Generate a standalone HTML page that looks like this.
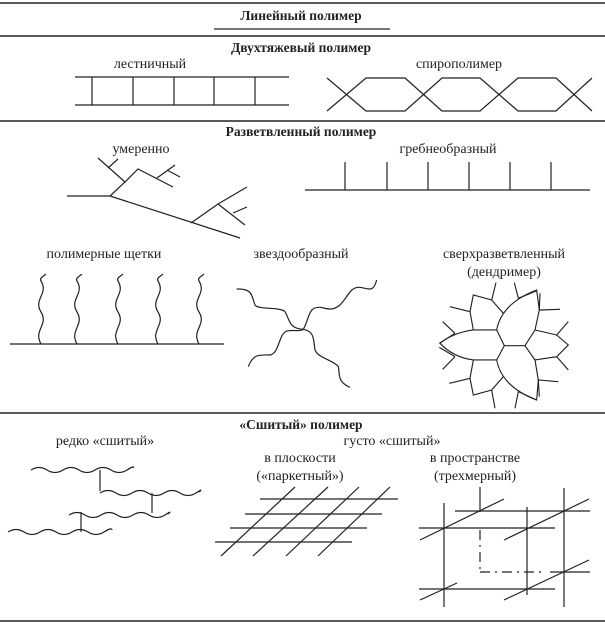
<!DOCTYPE html>
<html><head><meta charset="utf-8"><style>
html,body{margin:0;padding:0;background:#fff}
svg{display:block}
text{font-family:"Liberation Serif",serif;font-size:14px;fill:#222}
.b{font-weight:bold;font-size:13.5px}
</style></head><body>
<svg width="605" height="625" viewBox="0 0 605 625" xmlns="http://www.w3.org/2000/svg">
<g stroke="#222" stroke-width="1.2" fill="none">
<line x1="0" y1="3" x2="605" y2="3" stroke-width="1.5"/>
<line x1="0" y1="36" x2="605" y2="36" stroke-width="1.5"/>
<line x1="0" y1="121" x2="605" y2="121" stroke-width="1.5"/>
<line x1="0" y1="413" x2="605" y2="413" stroke-width="1.5"/>
<line x1="0" y1="621" x2="605" y2="621" stroke-width="1.5"/>
<line x1="214" y1="29" x2="390" y2="29"/>
<!-- ladder -->
<line x1="75" y1="77" x2="289" y2="77"/><line x1="75" y1="105" x2="289" y2="105"/>
<path d="M92 77V105M133 77V105M174 77V105M214 77V105M255 77V105"/>
<!-- spiro -->
<path d="M327 78L366 111L405 111L442 78L480 78L518 111L556 111L592 78"/>
<path d="M327 111L366 78L405 78L442 111L480 111L518 78L556 78L592 111"/>
<!-- moderate -->
<path d="M67 196H110L240 238"/>
<path d="M110 196L125 182L138 169L173 187"/>
<path d="M125 182L98 158M108 168L118 159"/>
<path d="M157 178L175 165M167 170L180 177"/>
<path d="M191 223L218 204L247 187M218 204L245 225M233 213L247 207"/>
<!-- comb -->
<line x1="305" y1="190" x2="590" y2="190"/>
<path d="M345 162V190M387 162V190M428 162V190M469 162V190M510 162V190M551 162V190"/>
<!-- brushes -->
<line x1="10" y1="344" x2="224" y2="344"/>
<g id="w"><path d="M41 344C33 330 49 325 41 312C33 299 49 294 41 281C39 278 44 276 46 274"/></g>
<use href="#w" x="36"/><use href="#w" x="77"/><use href="#w" x="117"/><use href="#w" x="158"/>
<!-- star -->
<g transform="translate(200,270) scale(0.3333)" stroke-width="3.6">
<path d="M110 57C160 55 155 80 165 105C175 120 240 110 255 125C270 150 265 175 310 178"/>
<path d="M310 178C330 140 325 110 360 112C380 115 395 125 420 105C445 80 450 50 480 52C505 55 520 70 530 30"/>
<path d="M145 290C160 250 180 255 210 255C240 250 235 185 265 182C285 180 300 185 310 178"/>
<path d="M310 178C345 185 340 210 345 240C355 265 400 270 415 290C420 310 410 335 450 352"/>
</g>
<!-- dendrimer -->
<g transform="translate(420,280) scale(0.3333)" stroke-width="3.4">
<path d="M253 197H315M230 150L253 197L230 240M315 197L345 150M315 197L345 240"/>
<path d="M230 150Q245 70 350 30L358 90L345 150"/>
<path d="M230 150H160L150 95L160 45L215 60L250 100"/>
<path d="M160 150Q100 158 60 190Q100 232 160 240H230"/>
<path d="M160 240L150 295L160 345L215 330L250 290"/>
<path d="M230 240Q245 320 350 360L355 300L345 240"/>
<path d="M345 150L410 165L445 195L410 230L345 240"/>
<path d="M215 60L228 8M295 55L283 8M295 55L350 32M150 95L90 80M105 160L68 125M105 160L58 190M105 230L58 202M105 230L68 268M150 295L88 310M215 330L225 385M295 335L285 385M295 335L350 360M358 90L420 88M358 90L360 40M410 165L445 125M410 230L445 270M355 300L415 305M355 300L358 350"/>
</g>
<!-- rare crosslinks -->
<path d="M31 470q8-5 16 0t16 0t16 0t16 0t16 0t16 0t6-2"/>
<path d="M100 493q8-5 16 0t16 0t16 0t16 0t16 0t16 0t3-1"/>
<path d="M69 515q8-5 16 0t16 0t16 0t16 0t16 0t16 0t3-1"/>
<path d="M8 532q8-5 16 0t16 0t16 0t16 0t16 0t16 0t8-2"/>
<path d="M100 470V491M152 493V513M81 512V532"/>
<!-- parquet -->
<path d="M260 499H398M245 514H382M230 528H367M215 542H352"/>
<path d="M221 556L295 487M253 556L328 487M286 556L359 487M318 556L390 487"/>
<!-- 3d -->
<path d="M444 503V607M480 487V512M527 507V595M564 488V607"/>
<path d="M455 511H590M419 528H555M419 589H555M550 572H590"/>
<path d="M480 530V570M480 572H545" stroke-dasharray="10 5 2 5"/>
<path d="M420 540L504 499M504 540L589 499M420 600L457 583M504 600L589 560"/>
</g>
<g text-anchor="middle">
<text x="301" y="20" class="b">Линейный полимер</text>
<text x="301" y="52" class="b">Двухтяжевый полимер</text>
<text x="150" y="68">лестничный</text>
<text x="459" y="68">спирополимер</text>
<text x="301" y="136" class="b">Разветвленный полимер</text>
<text x="141" y="153">умеренно</text>
<text x="448" y="153">гребнеобразный</text>
<text x="104" y="258">полимерные щетки</text>
<text x="301" y="258">звездообразный</text>
<text x="504" y="258">сверхразветвленный</text>
<text x="504" y="276">(дендример)</text>
<text x="301" y="429" class="b">«Сшитый» полимер</text>
<text x="105" y="445">редко «сшитый»</text>
<text x="392" y="445">густо «сшитый»</text>
<text x="300" y="462">в плоскости</text>
<text x="300" y="480">(«паркетный»)</text>
<text x="475" y="462">в пространстве</text>
<text x="475" y="480">(трехмерный)</text>
</g>
</svg>
</body></html>
